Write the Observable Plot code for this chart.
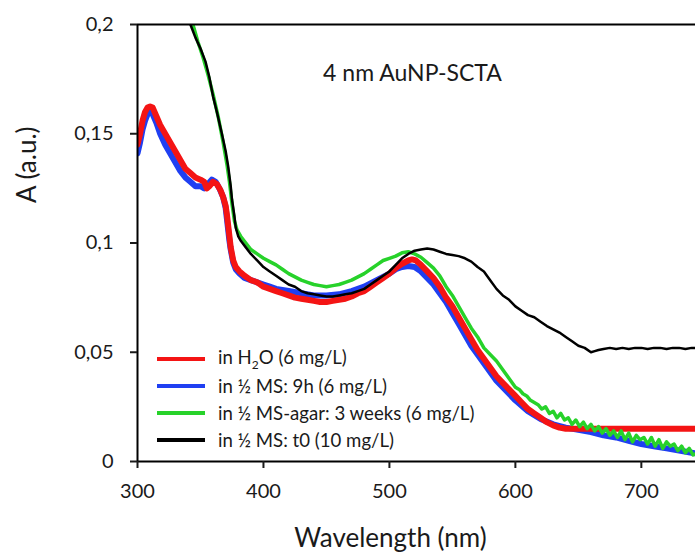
<!DOCTYPE html>
<html>
<head>
<meta charset="utf-8">
<script src="https://cdn.jsdelivr.net/npm/d3@7"></script>
<script src="https://cdn.jsdelivr.net/npm/@observablehq/plot@0.6"></script>
<style>
  html, body { margin: 0; padding: 0; background: white; }
  #wrap { position: relative; width: 695px; height: 555px; font-family: Lato, "Open Sans", sans-serif; }
  #legend { position: absolute; left: 157px; top: 345px; font-size: 18.6px; color: #1a1a1a; }
  .row { display: flex; align-items: center; height: 27px; white-space: nowrap; }
  .sw { width: 48px; height: 4px; margin-right: 13px; }
</style>
</head>
<body>
<div id="wrap"></div>
<script>
const titleText = "4 nm AuNP-SCTA";
const xLabel = "Wavelength (nm)";
const yLabel = "A (a.u.)";
const xTicks = [300, 400, 500, 600, 700];
const yTicks = [0, 0.05, 0.1, 0.15, 0.2];
const yTickLabels = ["0", "0,05", "0,1", "0,15", "0,2"];
const seriesNames = ["in H2O (6 mg/L)", "in ½ MS: 9h (6 mg/L)", "in ½ MS-agar: 3 weeks (6 mg/L)", "in ½ MS: t0 (10 mg/L)"];
const seriesColors = ["#f41414", "#1f3ff2", "#27d22a", "#000000"];

// in H2O (6 mg/L)
const wlRed = [300,302,304,306,308,310,312,315,318,322,326,330,334,338,342,346,350,353,355,357,360,363,366,368,370,371,372,373,374,376,378,381,385,390,395,400,405,410,415,420,425,430,435,440,445,450,455,460,465,470,475,480,485,490,495,500,505,510,515,518,521,525,530,535,540,545,550,555,560,565,570,575,580,585,590,595,600,605,610,615,620,625,630,635,640,660,680,700,720,745];
const absRed = [0.145,0.150,0.156,0.160,0.162,0.1625,0.162,0.158,0.154,0.150,0.146,0.142,0.138,0.134,0.132,0.130,0.129,0.128,0.125,0.126,0.128,0.127,0.124,0.121,0.117,0.113,0.108,0.103,0.098,0.092,0.089,0.087,0.085,0.083,0.082,0.080,0.079,0.078,0.077,0.076,0.075,0.0745,0.074,0.0735,0.073,0.073,0.0735,0.074,0.0745,0.0755,0.077,0.078,0.080,0.082,0.084,0.086,0.0885,0.0905,0.092,0.0925,0.092,0.090,0.087,0.084,0.080,0.075,0.071,0.066,0.061,0.056,0.051,0.047,0.043,0.039,0.036,0.033,0.030,0.027,0.024,0.022,0.020,0.018,0.0165,0.0155,0.015,0.015,0.015,0.015,0.015,0.015];

// in ½ MS: 9h (6 mg/L)
const wlBlue = [300,302,304,306,308,310,312,315,318,322,326,330,334,338,342,346,350,353,356,359,362,365,368,370,371,372,373,374,376,378,381,385,390,395,400,405,410,420,430,440,450,460,470,480,490,500,505,510,515,520,525,530,535,540,545,550,555,560,565,570,575,580,585,590,595,600,610,620,630,640,650,660,670,680,690,700,710,720,730,740,745];
const absBlue = [0.141,0.146,0.152,0.156,0.159,0.160,0.159,0.155,0.150,0.145,0.141,0.137,0.133,0.130,0.128,0.126,0.126,0.125,0.127,0.129,0.128,0.125,0.121,0.116,0.111,0.106,0.101,0.097,0.091,0.088,0.086,0.084,0.083,0.082,0.081,0.080,0.079,0.078,0.077,0.076,0.076,0.0765,0.078,0.080,0.083,0.086,0.088,0.089,0.0895,0.089,0.087,0.084,0.081,0.077,0.073,0.068,0.063,0.058,0.053,0.049,0.045,0.041,0.037,0.034,0.031,0.028,0.023,0.0195,0.017,0.0155,0.0145,0.0135,0.012,0.011,0.0095,0.008,0.007,0.006,0.005,0.004,0.0035];

// in ½ MS-agar: 3 weeks (6 mg/L)
const wlGreen = [300,330,344,348,352,356,360,364,368,371,373,375,377,379,382,386,390,395,400,405,410,415,420,425,430,435,440,445,450,455,460,465,470,475,480,485,490,495,500,505,510,515,520,525,530,535,540,545,550,555,560,565,570,575,580,585,590,595,600,603,606,609,612,615,618,621,624,627,630,633,636,639,642,645,648,651,654,657,660,663,666,669,672,675,678,681,684,687,690,693,696,699,702,705,708,711,714,717,720,723,726,729,732,735,738,741,745];
const absGreen = [0.300,0.240,0.200,0.192,0.185,0.177,0.168,0.158,0.146,0.136,0.128,0.118,0.110,0.106,0.103,0.100,0.097,0.095,0.093,0.0915,0.090,0.088,0.086,0.0845,0.083,0.082,0.081,0.0805,0.080,0.0805,0.081,0.082,0.083,0.0845,0.086,0.088,0.090,0.092,0.093,0.094,0.0955,0.096,0.095,0.0935,0.091,0.0885,0.085,0.080,0.076,0.071,0.066,0.061,0.057,0.052,0.049,0.046,0.042,0.038,0.034,0.033,0.031,0.030,0.028,0.027,0.026,0.024,0.025,0.022,0.023,0.020,0.022,0.019,0.020,0.017,0.019,0.016,0.018,0.015,0.017,0.014,0.016,0.013,0.015,0.012,0.014,0.011,0.014,0.010,0.013,0.009,0.012,0.010,0.011,0.008,0.011,0.007,0.010,0.006,0.009,0.007,0.008,0.005,0.007,0.004,0.006,0.003,0.004];

// in ½ MS: t0 (10 mg/L)
const wlBlack = [300,330,342,346,350,354,357,360,363,367,370,372,374,375,377,378,380,382,386,390,395,400,405,410,415,420,425,430,435,440,445,450,455,460,465,470,475,480,485,490,495,500,505,510,515,520,525,530,535,540,545,550,555,560,565,570,575,580,585,590,595,600,605,610,615,620,625,630,635,640,645,650,655,660,663,666,670,675,680,685,690,695,700,705,710,715,720,725,730,735,740,745];
const absBlack = [0.300,0.235,0.200,0.194,0.189,0.183,0.176,0.167,0.160,0.150,0.142,0.135,0.126,0.120,0.112,0.107,0.103,0.101,0.098,0.095,0.092,0.089,0.087,0.085,0.083,0.081,0.080,0.078,0.077,0.0765,0.076,0.0755,0.0755,0.076,0.0765,0.077,0.078,0.079,0.081,0.083,0.085,0.087,0.090,0.093,0.095,0.0965,0.097,0.0975,0.097,0.096,0.095,0.0945,0.094,0.093,0.0915,0.089,0.087,0.083,0.079,0.076,0.074,0.071,0.069,0.067,0.066,0.064,0.062,0.0605,0.059,0.057,0.055,0.053,0.052,0.050,0.0505,0.051,0.0515,0.052,0.0515,0.052,0.0515,0.052,0.052,0.0515,0.052,0.052,0.0515,0.052,0.052,0.0515,0.052,0.052];

const toRows = (wl, ab) => wl.map((w, i) => ({w, a: ab[i]}));
const red = toRows(wlRed, absRed);
const blue = toRows(wlBlue, absBlue);
const green = toRows(wlGreen, absGreen);
const black = toRows(wlBlack, absBlack);

const font = "Lato, 'Open Sans', sans-serif";

const chart = Plot.plot({
  width: 695,
  height: 555,
  marginLeft: 137,
  marginRight: 0,
  marginTop: 24,
  marginBottom: 94,
  style: {fontFamily: font, fontSize: "20px", color: "#1a1a1a", background: "white", overflow: "visible"},
  x: {domain: [300, 743]},
  y: {domain: [0, 0.2]},
  marks: [
    Plot.line(blue, {x: "w", y: "a", stroke: seriesColors[1], strokeWidth: 6, clip: true}),
    Plot.line(red, {x: "w", y: "a", stroke: seriesColors[0], strokeWidth: 6, clip: true}),
    Plot.line(green, {x: "w", y: "a", stroke: seriesColors[2], strokeWidth: 3.5, clip: true}),
    Plot.line(black, {x: "w", y: "a", stroke: seriesColors[3], strokeWidth: 2.5, clip: true}),
    Plot.ruleX([300], {stroke: "#000", strokeWidth: 2}),
    Plot.ruleY([0], {stroke: "#000", strokeWidth: 2}),
    Plot.ruleY([0.2], {stroke: "#000", strokeWidth: 2}),
    Plot.axisX({ticks: xTicks, tickSize: 7, tickPadding: 15, fontSize: 20, label: null, strokeWidth: 2}),
    Plot.axisY({ticks: yTicks, tickFormat: (d, i) => yTickLabels[i], tickSize: 7, tickPadding: 17, fontSize: 20, label: null, strokeWidth: 2}),
    Plot.text([titleText], {frameAnchor: "top", dx: -4, dy: 40, fontSize: 23, fill: "#1a1a1a"}),
    Plot.text([xLabel], {frameAnchor: "bottom", dx: -26, dy: 85, fontSize: 26, fill: "#1a1a1a"}),
    Plot.text([yLabel], {frameAnchor: "left", dx: -110, dy: -40, rotate: -90, fontSize: 26, fill: "#1a1a1a"})
  ]
});

const wrap = document.getElementById("wrap");
wrap.appendChild(chart);

const legend = document.createElement("div");
legend.id = "legend";
const labelsHtml = ["in H<sub style='font-size:12px'>2</sub>O (6 mg/L)", seriesNames[1], seriesNames[2], seriesNames[3]];
labelsHtml.forEach((lab, i) => {
  const row = document.createElement("div");
  row.className = "row";
  const sw = document.createElement("div");
  sw.className = "sw";
  sw.style.background = seriesColors[i];
  const t = document.createElement("span");
  t.innerHTML = lab;
  row.appendChild(sw);
  row.appendChild(t);
  legend.appendChild(row);
});
wrap.appendChild(legend);
</script>
</body>
</html>
